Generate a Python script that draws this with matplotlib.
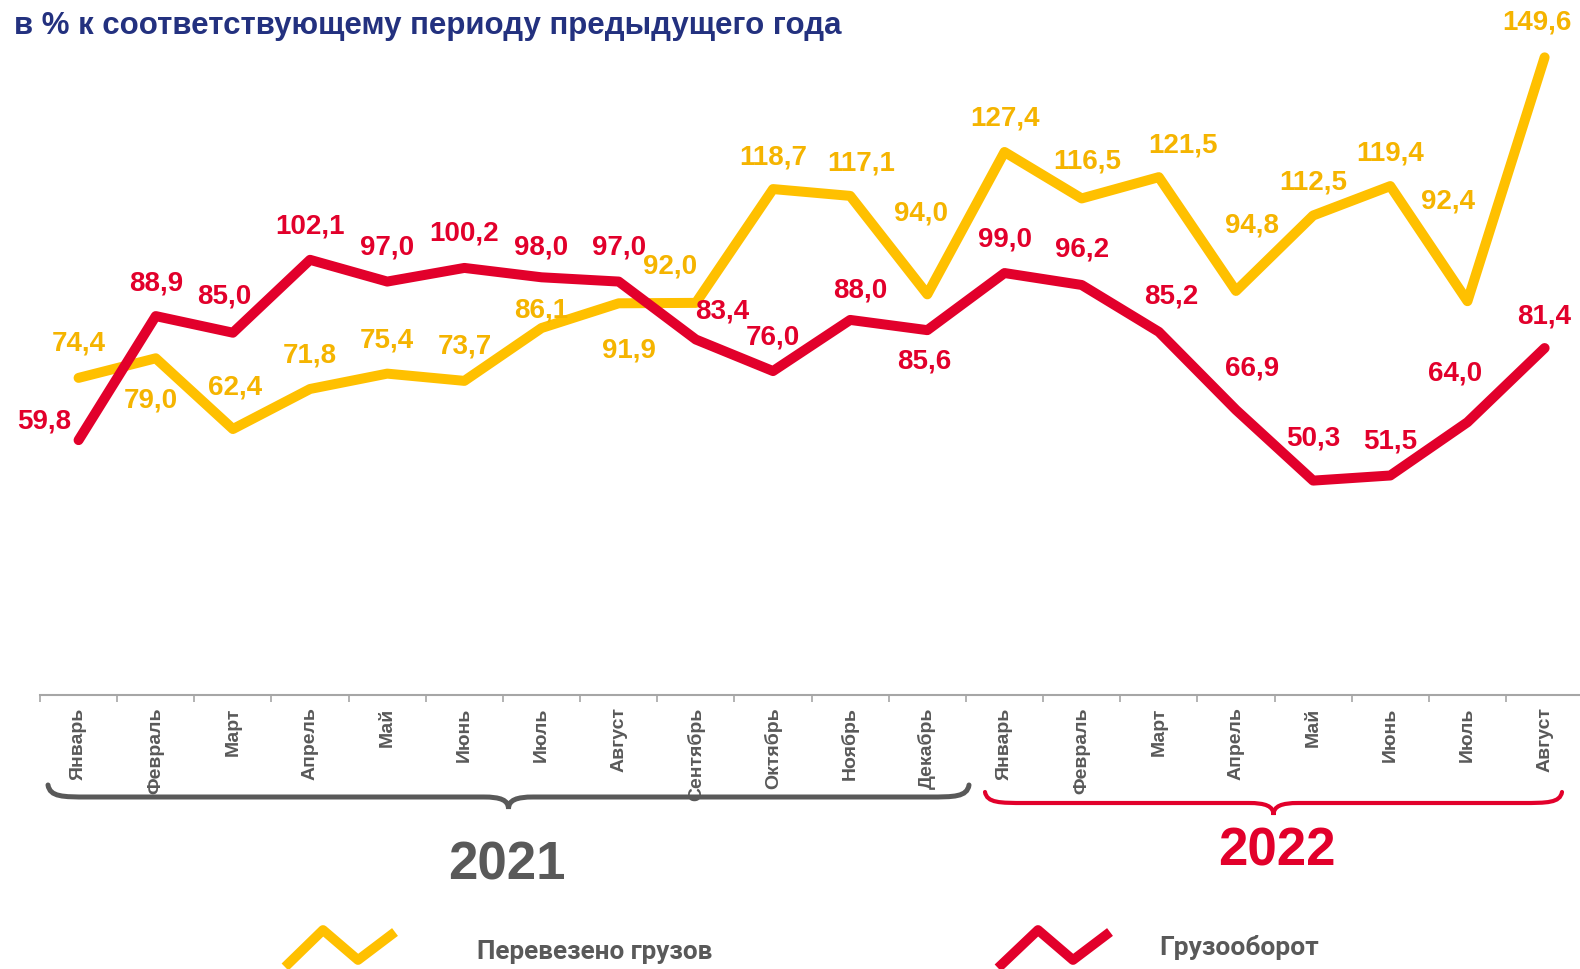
import matplotlib.pyplot as plt
from matplotlib.path import Path
from matplotlib.patches import PathPatch

# данные
months = ["Январь", "Февраль", "Март", "Апрель", "Май", "Июнь", "Июль", "Август",
          "Сентябрь", "Октябрь", "Ноябрь", "Декабрь",
          "Январь", "Февраль", "Март", "Апрель", "Май", "Июнь", "Июль", "Август"]
perevezeno = [74.4, 79.0, 62.4, 71.8, 75.4, 73.7, 86.1, 91.9, 92.0, 118.7, 117.1, 94.0,
              127.4, 116.5, 121.5, 94.8, 112.5, 119.4, 92.4, 149.6]
gruzooborot = [59.8, 88.9, 85.0, 102.1, 97.0, 100.2, 98.0, 97.0, 83.4, 76.0, 88.0, 85.6,
               99.0, 96.2, 85.2, 66.9, 50.3, 51.5, 64.0, 81.4]
years = ["2021", "2022"]

# смещения подписей (пиксели)
off_y = [(0, 34), (-5, -42), (2, 42), (0, 33), (0, 33), (0, 34), (0, 18), (10, -47), (-26, 36),
         (0, 32), (11, 32), (-6, 81), (0, 33), (6, 37), (24, 32), (16, 65), (0, 33), (0, 33),
         (-19, 100), (-8, 35)]
off_r = [(-34, 19), (0, 33), (-9, 36), (0, 33), (0, 34), (0, 34), (0, 30), (0, 34), (26, 28),
         (0, 34), (10, 29), (-3, -31), (0, 34), (0, 35), (12, 35), (16, 41), (0, 42), (0, 34),
         (-12, 49), (0, 32)]

YEL = "#FFC000"
YEL_T = "#F5B400"
RED = "#E2002B"
GRAY = "#595959"
NAVY = "#23317F"
BOLD = ["Liberation Sans", "DejaVu Sans"]

fig = plt.figure(figsize=(15.8, 9.69), dpi=100)
ax = fig.add_axes([40.0 / 1580, 1 - 695 / 969, 1543.2 / 1580, 695 / 969])
x = list(range(len(months)))

ax.plot(x, perevezeno, color=YEL, lw=7.2, solid_capstyle="round", solid_joinstyle="round", zorder=3)
ax.plot(x, gruzooborot, color=RED, lw=7.2, solid_capstyle="round", solid_joinstyle="round", zorder=4)

def fmt(v):
    return f"{v:.1f}".replace(".", ",")

for i in x:
    ax.annotate(fmt(perevezeno[i]), (i, perevezeno[i]), xytext=off_y[i], textcoords="offset pixels",
                ha="center", va="center", fontsize=20, fontweight="bold", color=YEL_T,
                family=BOLD, zorder=5)
    ax.annotate(fmt(gruzooborot[i]), (i, gruzooborot[i]), xytext=off_r[i], textcoords="offset pixels",
                ha="center", va="center", fontsize=20, fontweight="bold", color=RED,
                family=BOLD, zorder=5)

ax.set_xlim(-0.5, len(months) - 0.5)
ax.set_ylim(0, 163.06)
for s in ["top", "right", "left"]:
    ax.spines[s].set_visible(False)
ax.spines["bottom"].set_color("#A6A6A6")
ax.spines["bottom"].set_linewidth(1.5)
ax.set_yticks([])
ax.set_xticks(x)
ax.set_xticklabels(months, rotation=90, fontsize=14, fontweight="bold", color=GRAY, family=BOLD)
ax.tick_params(axis="x", which="major", length=0, pad=9)
ax.set_xticks([i - 0.5 for i in range(len(months) + 1)], minor=True)
ax.tick_params(axis="x", which="minor", length=5, width=1.2, color="#A6A6A6")

# оверлей для скобок и легенды (пиксели)
ov = fig.add_axes([0, 0, 1, 1], zorder=-1)
ov.set_xlim(0, 1580)
ov.set_ylim(969, 0)
ov.axis("off")

def brace(x0, x1, y0, yh, ym, color, lw):
    xm = (x0 + x1) / 2
    verts = [(x0, y0), (x0 + 2, yh), (x0 + 15, yh), (x0 + 40, yh),
             (xm - 25, yh),
             (xm - 8, yh), (xm, yh + 3), (xm, ym),
             (xm, yh + 3), (xm + 8, yh), (xm + 25, yh),
             (x1 - 40, yh),
             (x1 - 15, yh), (x1 - 2, yh), (x1, y0)]
    codes = [Path.MOVETO, Path.CURVE4, Path.CURVE4, Path.CURVE4,
             Path.LINETO,
             Path.CURVE4, Path.CURVE4, Path.CURVE4,
             Path.CURVE4, Path.CURVE4, Path.CURVE4,
             Path.LINETO,
             Path.CURVE4, Path.CURVE4, Path.CURVE4]
    ov.add_patch(PathPatch(Path(verts, codes), fill=False, edgecolor=color, lw=lw, capstyle="round"))

brace(48, 969, 785, 797, 809, GRAY, 3.6)
brace(985, 1562, 792, 803, 815, RED, 3.0)

ov.text(507, 866, years[0], ha="center", va="center", fontsize=38, fontweight="bold", color=GRAY, family=BOLD)
ov.text(1277, 851, years[1], ha="center", va="center", fontsize=38, fontweight="bold", color=RED, family=BOLD)

# легенда
ov.plot([285, 323, 358, 395], [967, 930, 960, 932], color=YEL, lw=7, solid_capstyle="butt")
ov.plot([998, 1038, 1073, 1110], [968, 930, 960, 932], color=RED, lw=7, solid_capstyle="butt")
ov.text(477, 952, "Перевезено грузов", ha="left", va="center", fontsize=18.8, fontweight="bold",
        color=GRAY, family=["Roboto", "DejaVu Sans"])
ov.text(1159, 948, "Грузооборот", ha="left", va="center", fontsize=19, fontweight="bold",
        color=GRAY, family=["Roboto", "DejaVu Sans"])

fig.text(14 / 1580, 1 - 26 / 969, "в % к соответствующему периоду предыдущего года", ha="left", va="center",
         fontsize=22.5, fontweight="bold", color=NAVY, family=BOLD)

fig.savefig("out.png", dpi=100)
